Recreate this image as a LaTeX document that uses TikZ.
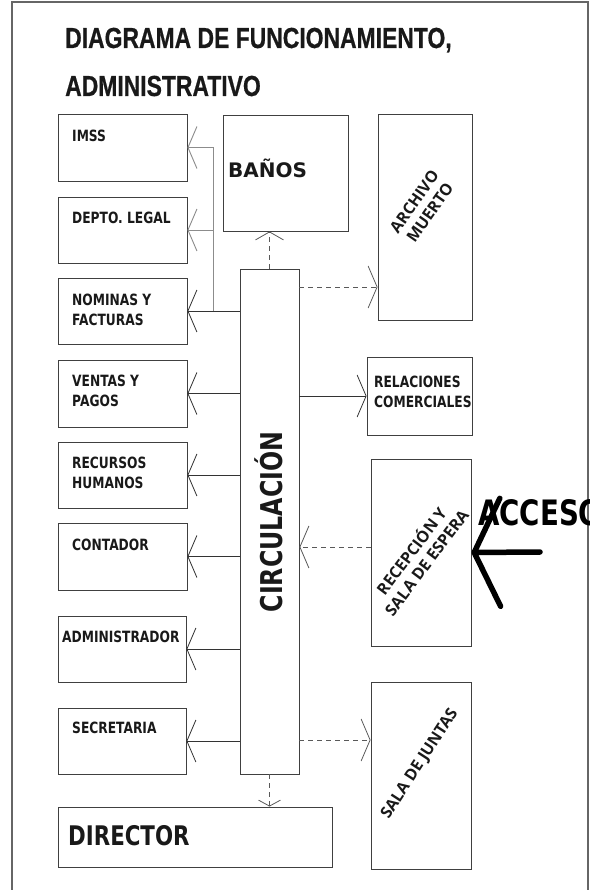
\documentclass[tikz,border=0pt]{standalone}
\usepackage{fontspec}
\usetikzlibrary{arrows.meta}
\newfontfamily\titlefont[FakeStretch=0.79, BoldFeatures={FakeBold=0.6}]{Liberation Sans}
\newfontfamily\boxfont[FakeStretch=0.79]{DejaVu Sans}
\newfontfamily\wideboxfont{DejaVu Sans}
\newfontfamily\tiltfont{Open Sans}

\begin{document}
\begin{tikzpicture}[x=1pt,y=-1pt,
  room/.style={draw=black!75, line width=0.9pt, rectangle, inner sep=0pt},
  lbl/.style={font=\boxfont\bfseries\fontsize{15.5}{20}\selectfont, text=black!90, inner sep=0pt, align=left, anchor=north west},
  tilt/.style={font=\tiltfont\bfseries\fontsize{16}{19}\selectfont, text=black!90, inner sep=0pt, align=center},
  link/.style={draw=black!80, line width=0.8pt},
  busline/.style={draw=black!45, line width=0.9pt},
  dline/.style={draw=black!65, line width=0.8pt, dash pattern=on 5pt off 4pt},
  bigtip/.style={-{Straight Barb[length=9pt,width=42pt]}},
  smalltip/.style={-{Straight Barb[length=8pt,width=28pt]}},
  tinytip/.style={-{Straight Barb[length=6pt,width=22pt]}}
]

\useasboundingbox (0,0) rectangle (589,890);

\draw [draw=black!60, line width=1.2pt] (12,890) -- (12,2) -- (588,2) -- (588,890);

\node [font=\titlefont\bfseries\fontsize{29}{34}\selectfont, text=black!90, anchor=base west, inner sep=0pt] (title1) at (65,48) {DIAGRAMA DE FUNCIONAMIENTO,};
\node [font=\titlefont\bfseries\fontsize{29}{34}\selectfont, text=black!90, anchor=base west, inner sep=0pt] (title2) at (65,96) {ADMINISTRATIVO};


\node [room, minimum width=129pt, minimum height=67pt] (imss) at (122.5,147.5) {};
\node [room, minimum width=129pt, minimum height=66pt] (legal) at (122.5,230) {};
\node [room, minimum width=129pt, minimum height=66pt] (nominas) at (122.5,311) {};
\node [room, minimum width=129pt, minimum height=67pt] (ventas) at (122.5,393.5) {};
\node [room, minimum width=129pt, minimum height=66pt] (rrhh) at (122.5,475) {};
\node [room, minimum width=129pt, minimum height=67pt] (contador) at (122.5,556.5) {};
\node [room, minimum width=128pt, minimum height=66pt] (admin) at (122,649) {};
\node [room, minimum width=128pt, minimum height=66pt] (secre) at (122,741) {};
\node [room, minimum width=274pt, minimum height=60pt] (director) at (195,837) {};

\node [room, minimum width=59pt, minimum height=505pt] (circ) at (269.5,521.5) {};
\node [room, minimum width=125pt, minimum height=116pt] (banos) at (285.5,173) {};

\node [room, minimum width=94pt, minimum height=206pt] (archivo) at (425,217) {};
\node [room, minimum width=105pt, minimum height=78pt] (relac) at (419.5,396) {};
\node [room, minimum width=100pt, minimum height=187pt] (recep) at (421,552.5) {};
\node [room, minimum width=100pt, minimum height=187pt] (juntas) at (421,775.5) {};


\node [lbl] (imsstext) at (72,130) {IMSS};
\node [lbl] (legaltext) at (72,212) {DEPTO. LEGAL};
\node [lbl] (nominastext) at (72,294) {NOMINAS Y\\FACTURAS};
\node [lbl] (ventastext) at (72,375) {VENTAS Y\\PAGOS};
\node [lbl] (rrhhtext) at (72,457) {RECURSOS\\HUMANOS};
\node [lbl] (contadortext) at (72,539) {CONTADOR};
\node [lbl] (admintext) at (62,631) {ADMINISTRADOR};
\node [lbl] (secretext) at (72,722) {SECRETARIA};
\node [lbl] (relactext) at (374,376) {RELACIONES\\COMERCIALES};

\node [font=\wideboxfont\bfseries\fontsize{20}{24}\selectfont, text=black!90, anchor=base west, inner sep=0pt] (banostext) at (228,178) {BAÑOS};
\node [font=\boxfont\bfseries\fontsize{27}{30}\selectfont, text=black!90, anchor=base west, inner sep=0pt] (directortext) at (68,845) {DIRECTOR};
\node [font=\boxfont\bfseries\fontsize{30}{36}\selectfont, text=black!90, anchor=base, inner sep=0pt, rotate=90] (circtext) at (282,522) {CIRCULACIÓN};

\node [tilt, rotate=55] (archivotext) at (422,207) {ARCHIVO\\MUERTO};
\node [tilt, rotate=53] (receptext) at (418,556) {RECEPCIÓN Y\\SALA DE ESPERA};
\node [tilt, rotate=57] (juntastext) at (420,764) {SALA DE JUNTAS};

\node [font=\boxfont\bfseries\fontsize{35}{40}\selectfont, text=black, anchor=base west, inner sep=0pt] (accesotext) at (478,525) {ACCESO};


\coordinate (bus) at (213,0);
\draw [link, bigtip] (circ.west |- nominas.east) -- (nominas.east);
\draw [busline] (bus |- nominas.east) -- (bus |- imss.east);
\draw [busline, bigtip] (bus |- imss.east) -- (imss.east);
\draw [busline, bigtip] (bus |- legal.east) -- (legal.east);

\draw [link, bigtip] (circ.west |- ventas.east) -- (ventas.east);
\draw [link, bigtip] (circ.west |- rrhh.east) -- (rrhh.east);
\draw [link, bigtip] (circ.west |- contador.east) -- (contador.east);
\draw [link, bigtip] (circ.west |- admin.east) -- (admin.east);
\draw [link, bigtip] (circ.west |- secre.east) -- (secre.east);

\draw [link, bigtip] (circ.east |- relac.west) -- (relac.west);
\draw [dline, bigtip] (circ.east |- 0,287) -- (archivo.west |- 0,287);
\draw [dline, bigtip] (recep.west |- 0,547) -- (circ.east |- 0,547);
\draw [dline, bigtip] (circ.east |- 0,740) -- (juntas.west |- 0,740);

\draw [dline, smalltip] (circ.north) -- (circ.north |- banos.south);
\draw [dline, tinytip] (circ.south) -- (circ.south |- director.north);


\coordinate (acceso) at (540,552);
\draw [line width=5.5pt, line cap=round, -{Straight Barb[length=26pt,width=108pt,round]}] (acceso) -- (recep.east);

\end{tikzpicture}
\end{document}
